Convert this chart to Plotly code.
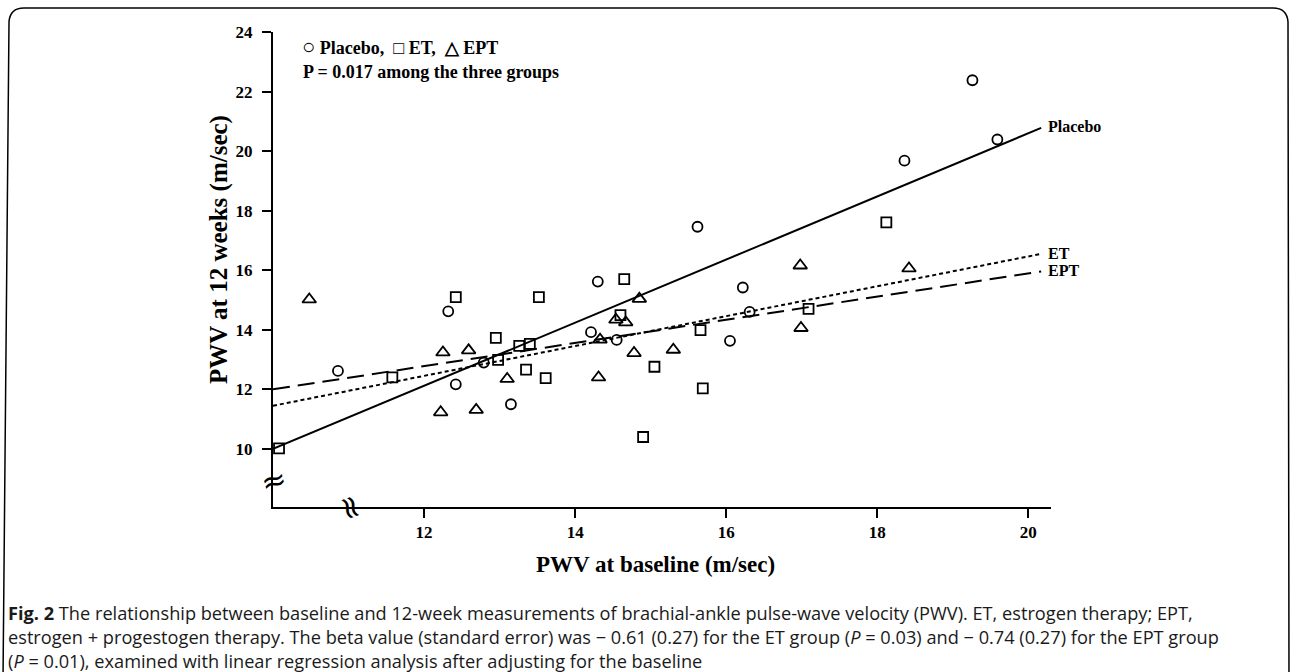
import plotly.graph_objects as go

# ---------------- data ----------------
placebo_x = [10.86, 12.32, 12.42, 12.79, 13.15, 14.21, 14.30, 14.55, 15.62, 16.05, 16.22, 16.31, 18.36, 19.26, 19.59]
placebo_y = [12.62, 14.62, 12.17, 12.90, 11.50, 13.92, 15.62, 13.66, 17.46, 13.63, 15.42, 14.60, 19.68, 22.38, 20.39]

et_x = [10.08, 11.58, 12.42, 12.95, 12.98, 13.26, 13.40, 13.35, 13.61, 13.52, 14.65, 14.60, 15.05, 15.66, 15.69, 14.90, 17.09, 18.12]
et_y = [10.02, 12.40, 15.10, 13.73, 12.99, 13.46, 13.53, 12.66, 12.38, 15.10, 15.70, 14.49, 12.76, 13.99, 12.03, 10.40, 14.70, 17.61]

ept_x = [10.48, 12.25, 12.59, 12.22, 12.69, 13.10, 14.33, 14.31, 14.85, 14.54, 14.67, 14.78, 15.30, 16.98, 16.99, 18.42]
ept_y = [15.02, 13.24, 13.31, 11.23, 11.31, 12.35, 13.67, 12.40, 15.04, 14.34, 14.25, 13.22, 13.33, 16.16, 14.06, 16.06]

fit_x = [10.0, 20.17]
placebo_fit = [10.0, 20.78]
et_fit = [11.45, 16.55]
ept_fit = [12.0, 15.96]

y_ticks = [10, 12, 14, 16, 18, 20, 22, 24]
x_ticks = [12, 14, 16, 18, 20]

caption_lines = [
    "<b>Fig. 2</b> The relationship between baseline and 12-week measurements of brachial-ankle pulse-wave velocity (PWV). ET, estrogen therapy; EPT,",
    "estrogen + progestogen therapy. The beta value (standard error) was \u2212 0.61 (0.27) for the ET group (<i>P</i> = 0.03) and \u2212 0.74 (0.27) for the EPT group",
    "(<i>P</i> = 0.01), examined with linear regression analysis after adjusting for the baseline",
]

# ---------------- layout geometry ----------------
W, H = 1290, 672
ML, MR, MT, MB = 273, 239, 32, 165
PW, PH = W - ML - MR, H - MT - MB

def px(x):
    return (x - ML) / PW

def py(y):
    return (H - MB - y) / PH

SERIF = "Liberation Serif"
SANS = "Open Sans"

fig = go.Figure()

marker_line = dict(color="black", width=1.8)
fig.add_trace(go.Scatter(x=placebo_x, y=placebo_y, mode="markers", name="Placebo",
                         marker=dict(symbol="circle-open", size=10, color="black", line=marker_line)))
fig.add_trace(go.Scatter(x=et_x, y=et_y, mode="markers", name="ET",
                         marker=dict(symbol="square-open", size=10, color="black", line=marker_line)))
fig.add_trace(go.Scatter(x=ept_x, y=ept_y, mode="markers", name="EPT",
                         marker=dict(symbol="triangle-up-open", size=12, color="black", line=marker_line)))

fig.add_trace(go.Scatter(x=fit_x, y=placebo_fit, mode="lines", line=dict(color="black", width=2)))
fig.add_trace(go.Scatter(x=fit_x, y=et_fit, mode="lines", line=dict(color="black", width=2, dash="4px,3px")))
fig.add_trace(go.Scatter(x=fit_x, y=ept_fit, mode="lines", line=dict(color="black", width=2, dash="17px,8px")))

axis_common = dict(showline=True, linewidth=2, linecolor="black", ticks="outside", ticklen=9,
                   tickwidth=2, tickcolor="black", showgrid=False, zeroline=False,
                   tickfont=dict(family=SERIF, size=17, color="black", weight="bold"))

fig.update_xaxes(range=[10, 20.3], tickvals=x_ticks, ticklabelstandoff=0, **axis_common)
fig.update_yaxes(range=[8.05, 24.0], tickvals=y_ticks, ticklabelstandoff=6, **axis_common)

ann = []
# legend-like text
ann.append(dict(x=px(300), y=py(47), xref="paper", yref="paper", xanchor="left", yanchor="middle",
                text="<span style='font-size:22px'>\u25cb</span> Placebo,  \u25a1 ET,  \u25b3 EPT", showarrow=False,
                font=dict(family=SERIF, size=18, color="black", weight="bold")))
ann.append(dict(x=px(301), y=py(72), xref="paper", yref="paper", xanchor="left", yanchor="middle",
                text="P = 0.017 among the three groups", showarrow=False,
                font=dict(family=SERIF, size=18, color="black", weight="bold")))
# line end labels
for label, yy in [("Placebo", 127), ("ET", 253), ("EPT", 270.5)]:
    ann.append(dict(x=px(1046), y=py(yy), xref="paper", yref="paper", xanchor="left", yanchor="middle",
                    text=label, showarrow=False,
                    font=dict(family=SERIF, size=16, color="black", weight="bold")))
# axis titles
ann.append(dict(x=px(655), y=py(564), xref="paper", yref="paper", xanchor="center", yanchor="middle",
                text="PWV at baseline (m/sec)", showarrow=False,
                font=dict(family=SERIF, size=23, color="black", weight="bold")))
ann.append(dict(x=px(219), y=py(250), xref="paper", yref="paper", xanchor="center", yanchor="middle",
                text="PWV at 12 weeks (m/sec)", showarrow=False, textangle=-90,
                font=dict(family=SERIF, size=25, color="black", weight="bold")))
# axis break marks
ann.append(dict(x=px(273), y=py(480), xref="paper", yref="paper", xanchor="center", yanchor="middle",
                text="\u2248", showarrow=False, textangle=-15,
                font=dict(family="DejaVu Sans", size=30, color="black")))
ann.append(dict(x=px(351), y=py(507), xref="paper", yref="paper", xanchor="center", yanchor="middle",
                text="\u2248", showarrow=False, textangle=70,
                font=dict(family="DejaVu Sans", size=32, color="black")))
# caption
for i, line in enumerate(caption_lines):
    ann.append(dict(x=px(6), y=py(613 + 24 * i), xref="paper", yref="paper", xanchor="left", yanchor="middle",
                    text=line, showarrow=False,
                    font=dict(family=SANS, size=18.2, color="#1a1a1a")))

# rounded frame
frame = (f"M {px(3)},{py(680)} L {px(9)},{py(22)} Q {px(10)},{py(8)} {px(24)},{py(8)} "
         f"L {px(1273)},{py(8)} Q {px(1287)},{py(8)} {px(1288)},{py(22)} L {px(1289)},{py(680)}")

fig.update_layout(
    width=W, height=H, margin=dict(l=ML, r=MR, t=MT, b=MB),
    paper_bgcolor="white", plot_bgcolor="white", showlegend=False,
    annotations=ann,
    shapes=[dict(type="path", path=frame, xref="paper", yref="paper",
                 line=dict(color="black", width=1.5), layer="below")],
)

fig.write_html("out.html", config={"displayModeBar": False},
               post_script="document.body.style.margin='0px';document.body.style.overflow='hidden';")
